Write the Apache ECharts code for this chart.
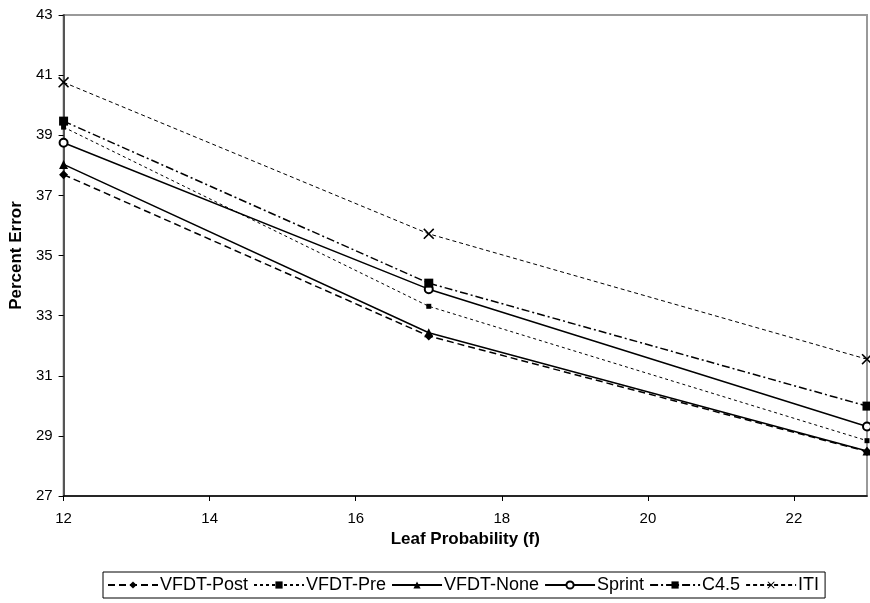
<!DOCTYPE html>
<html>
<head>
<meta charset="utf-8">
<script src="https://cdn.jsdelivr.net/npm/echarts@6/dist/echarts.min.js"></script>
<style>
  html, body { margin: 0; padding: 0; background: #fff; }
  #chart { width: 870px; height: 603px; }
</style>
</head>
<body>
<div id="chart"></div>
<script>
// Leaf probability settings on the x axis
const leafProb = [12, 17, 23];

// Percent error for each learner
const vfdtPost = [37.69, 32.32, 28.48];
const vfdtPre  = [39.27, 33.31, 28.84];
const vfdtNone = [38.03, 32.43, 28.50];
const sprint   = [38.75, 33.88, 29.31];
const c45      = [39.47, 34.08, 29.99];
const iti      = [40.76, 35.72, 31.55];

const xTicks = { min: 12, max: 23, step: 2 };
const yTicks = { min: 27, max: 43, step: 2 };

const FONT = '"Liberation Sans", Arial, sans-serif';
const NARROW = '"Liberation Sans Narrow", "Arial Narrow", "Liberation Sans", sans-serif';
const crossPath = 'path://M0,1L1,0L5,4L9,0L10,1L6,5L10,9L9,10L5,6L1,10L0,9L4,5Z';

function pairs(vals) {
  return leafProb.map((x, i) => [x, vals[i]]);
}

function line(name, vals, lineType, width, symbol, size, extra) {
  return Object.assign({
    name: name,
    type: 'line',
    data: pairs(vals),
    symbol: symbol,
    symbolSize: size,
    showAllSymbol: true,
    color: '#000',
    lineStyle: { color: '#000', width: width, type: lineType },
    itemStyle: { color: '#000' },
    emphasis: { disabled: true },
    animation: false,
    z: 3
  }, extra || {});
}

const chart = echarts.init(document.getElementById('chart'), null, { renderer: 'canvas' });

chart.setOption({
  backgroundColor: '#fff',
  animation: false,
  textStyle: { fontFamily: FONT },
  grid: {
    left: 61, right: 3, top: 15, bottom: 107,
    show: true, borderColor: '#999', borderWidth: 2, backgroundColor: '#fff'
  },
  xAxis: {
    type: 'value',
    min: xTicks.min, max: xTicks.max, interval: xTicks.step,
    name: 'Leaf Probability (f)',
    nameLocation: 'middle',
    nameGap: 35,
    nameTextStyle: { fontFamily: FONT, fontSize: 17, fontWeight: 'bold', color: '#000' },
    axisLine: { show: true, onZero: false, lineStyle: { color: '#000', width: 1.5 } },
    axisTick: { show: true, length: 5, lineStyle: { color: '#000' } },
    axisLabel: { fontFamily: FONT, fontSize: 15, color: '#000', margin: 15, showMaxLabel: false },
    splitLine: { show: false }
  },
  yAxis: {
    type: 'value',
    min: yTicks.min, max: yTicks.max, interval: yTicks.step,
    name: 'Percent Error',
    nameLocation: 'middle',
    nameGap: 37,
    nameTextStyle: { fontFamily: FONT, fontSize: 17, fontWeight: 'bold', color: '#000' },
    axisLine: { show: true, onZero: false, lineStyle: { color: '#555', width: 2 } },
    axisTick: { show: true, length: 5, lineStyle: { color: '#000' } },
    axisLabel: { fontFamily: FONT, fontSize: 15, color: '#000', margin: 11 },
    splitLine: { show: false }
  },
  legend: {
    bottom: 5,
    left: 103,
    orient: 'horizontal',
    borderColor: '#000',
    borderWidth: 1,
    borderRadius: 0,
    padding: [4, 6, 4, 4],
    itemWidth: 50,
    itemHeight: 9,
    itemGap: 5,
    textStyle: { fontFamily: NARROW, fontSize: 18, color: '#000', padding: [0, 0, 0, -3] },
    data: ['VFDT-Post', 'VFDT-Pre', 'VFDT-None', 'Sprint', 'C4.5', 'ITI']
  },
  series: [
    line('VFDT-Post', vfdtPost, [7, 4], 1.5, 'diamond', 9),
    line('VFDT-Pre', vfdtPre, [3, 3], 1, 'rect', 5),
    line('VFDT-None', vfdtNone, 'solid', 1.5, 'triangle', 9),
    line('Sprint', sprint, 'solid', 1.5, 'emptyCircle', 8,
      { itemStyle: { color: '#000', borderWidth: 1 } }),
    line('C4.5', c45, [8, 3, 2, 3], 1.5, 'rect', 9),
    line('ITI', iti, [4, 3], 1, crossPath, 11)
  ]
});
</script>
</body>
</html>
